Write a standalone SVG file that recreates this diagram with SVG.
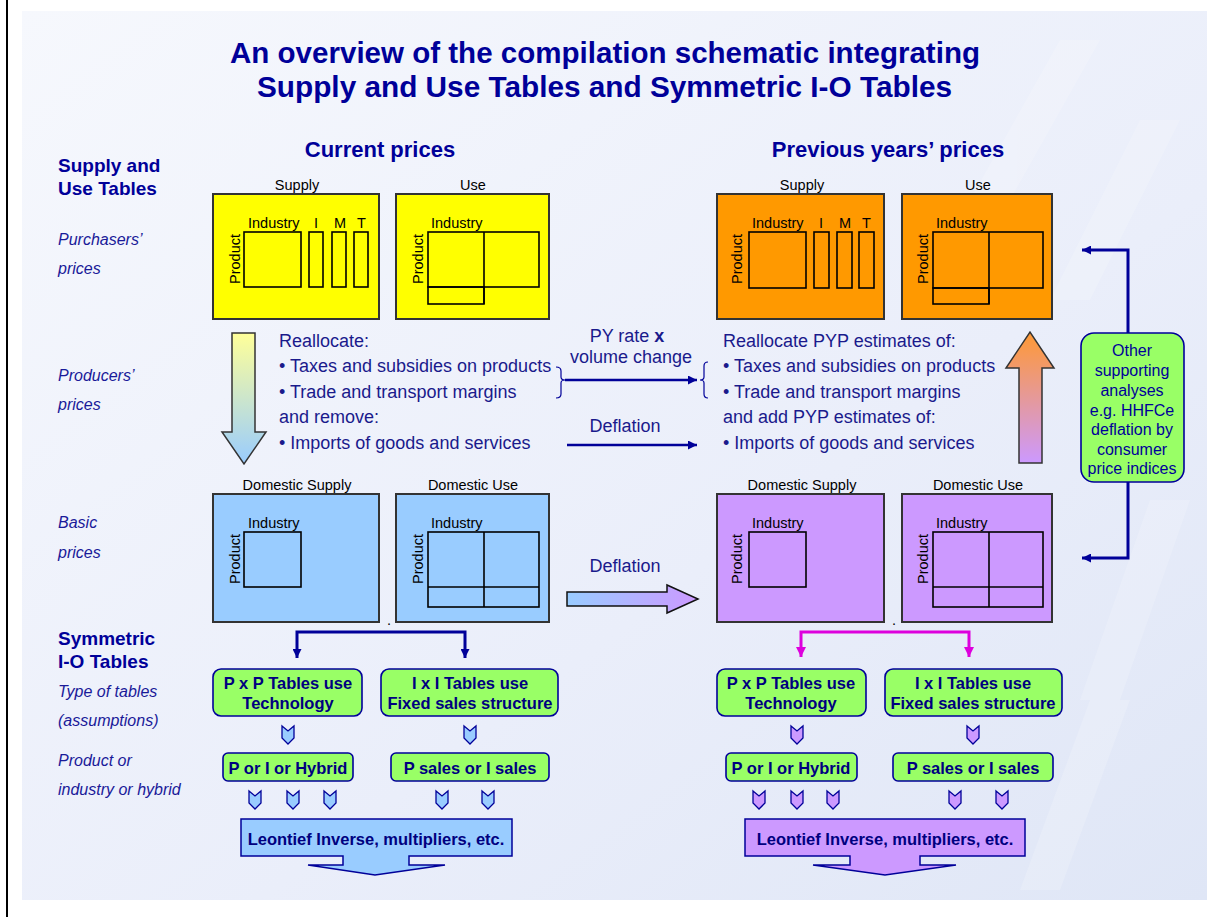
<svg xmlns="http://www.w3.org/2000/svg" width="1209" height="917" viewBox="0 0 1209 917">
<defs>
<linearGradient id="bg" x1="0" y1="0" x2="1" y2="1">
<stop offset="0" stop-color="#f6f8fd"/>
<stop offset="0.6" stop-color="#eaeefa"/>
<stop offset="1" stop-color="#dfe6f6"/>
</linearGradient>
<linearGradient id="gDown" x1="0" y1="0" x2="0" y2="1">
<stop offset="0" stop-color="#ffff99"/>
<stop offset="1" stop-color="#99ccff"/>
</linearGradient>
<linearGradient id="gUp" x1="0" y1="0" x2="0" y2="1">
<stop offset="0" stop-color="#ff9933"/>
<stop offset="1" stop-color="#cc99ff"/>
</linearGradient>
<linearGradient id="gRight" x1="0" y1="0" x2="1" y2="0">
<stop offset="0" stop-color="#99ccff"/>
<stop offset="1" stop-color="#cc99ff"/>
</linearGradient>
<marker id="ahN" viewBox="0 0 10 10" refX="10" refY="5" markerWidth="10" markerHeight="9" markerUnits="userSpaceOnUse" orient="auto">
<path d="M0,0 L10,5 L0,10 Z" fill="#000099"/>
</marker>
<marker id="ahM" viewBox="0 0 10 10" refX="10" refY="5" markerWidth="10" markerHeight="10" markerUnits="userSpaceOnUse" orient="auto">
<path d="M0,0 L10,5 L0,10 Z" fill="#dd00dd"/>
</marker>
<path id="chev" d="M-6,0 L0,5 L6,0 L6,12 L0,18 L-6,12 Z"/>
</defs>
<style>
.t{font-family:"Liberation Sans",Arial,sans-serif;fill:#000099}
.title{font-size:29px;font-weight:bold;text-anchor:middle}
.hdr{font-size:22px;font-weight:bold;text-anchor:middle}
.lab{font-size:19px;font-weight:bold}
.it{font-size:16px;font-style:italic;fill:#1a1a99}
.body{font-size:18px;fill:#1a1a8c}
.tiny{font-family:"Liberation Sans",Arial,sans-serif;font-size:14.5px;fill:#000}
.mid{text-anchor:middle}
.box{stroke:#333;stroke-width:2}
.inner{fill:none;stroke:#000;stroke-width:1.6}
.green{fill:#99ff66;stroke:#000099;stroke-width:1.6}
.gt{font-family:"Liberation Sans",Arial,sans-serif;font-size:16.5px;font-weight:bold;fill:#000080;text-anchor:middle}
.ot{font-family:"Liberation Sans",Arial,sans-serif;font-size:16px;fill:#000099;text-anchor:middle}
.conN{fill:none;stroke:#000099;stroke-width:3;marker-end:url(#ahN)}
.conM{fill:none;stroke:#dd00dd;stroke-width:3;marker-end:url(#ahM)}
.cb{fill:#99ccff;stroke:#000099;stroke-width:1.3}
.cp{fill:#cc99ff;stroke:#000099;stroke-width:1.3}
</style>

<rect x="0" y="0" width="1209" height="917" fill="#ffffff"/>
<rect x="22" y="11" width="1185" height="889" fill="url(#bg)"/>
<g opacity="0.18" fill="#ffffff">
<polygon points="1060,40 1100,40 1010,200 970,200"/>
<polygon points="1140,120 1180,120 1090,300 1050,300"/>
<polygon points="1150,500 1190,500 1120,700 1080,700"/>
<polygon points="1090,700 1130,700 1060,890 1020,890"/>
</g>
<line x1="7" y1="0" x2="7" y2="917" stroke="#000" stroke-width="2"/>

<g id="title">
<text class="t title" x="605" y="63" textLength="750" lengthAdjust="spacingAndGlyphs">An overview of the compilation schematic integrating</text>
<text class="t title" x="604.5" y="97" textLength="695" lengthAdjust="spacingAndGlyphs">Supply and Use Tables and Symmetric I-O Tables</text>
<text class="t hdr" x="380" y="157">Current prices</text>
<text class="t hdr" x="888" y="157">Previous years’ prices</text>
</g>

<g id="row-labels">
<text class="t lab" x="58" y="172">Supply and</text>
<text class="t lab" x="58" y="195">Use Tables</text>
<text class="t it" x="58" y="245">Purchasers’</text>
<text class="t it" x="58" y="274">prices</text>
<text class="t it" x="58" y="381">Producers’</text>
<text class="t it" x="58" y="410">prices</text>
<text class="t it" x="58" y="528">Basic</text>
<text class="t it" x="58" y="558">prices</text>
<text class="t lab" x="58" y="645">Symmetric</text>
<text class="t lab" x="58" y="668">I-O Tables</text>
<text class="t it" x="58" y="697">Type of tables</text>
<text class="t it" x="58" y="726">(assumptions)</text>
<text class="t it" x="58" y="766">Product or</text>
<text class="t it" x="58" y="795">industry or hybrid</text>
</g>

<g id="cp-supply">
<text class="tiny mid" x="297" y="190">Supply</text>
<rect class="box" x="213" y="194" width="166" height="125" fill="#ffff00"/>
<text class="tiny" x="248" y="228">Industry</text>
<text class="tiny" x="314" y="228">I</text>
<text class="tiny" x="334" y="228">M</text>
<text class="tiny" x="357" y="228">T</text>
<rect class="inner" x="244" y="232" width="57" height="55"/>
<rect class="inner" x="309" y="232" width="14" height="55"/>
<rect class="inner" x="332" y="232" width="14" height="55"/>
<rect class="inner" x="354" y="232" width="14" height="55"/>
<text class="tiny mid" transform="translate(240,259) rotate(-90)">Product</text>
</g>
<g id="cp-use">
<text class="tiny mid" x="473" y="190">Use</text>
<rect class="box" x="396" y="194" width="153" height="125" fill="#ffff00"/>
<text class="tiny" x="431" y="228">Industry</text>
<rect class="inner" x="428" y="232" width="111" height="55"/>
<line class="inner" x1="484" y1="232" x2="484" y2="304"/>
<rect class="inner" x="428" y="287" width="56" height="17"/>
<text class="tiny mid" transform="translate(423,259) rotate(-90)">Product</text>
</g>

<g id="pyp-supply">
<text class="tiny mid" x="802" y="190">Supply</text>
<rect class="box" x="717" y="194" width="167" height="125" fill="#ff9900"/>
<text class="tiny" x="752" y="228">Industry</text>
<text class="tiny" x="819" y="228">I</text>
<text class="tiny" x="839" y="228">M</text>
<text class="tiny" x="862" y="228">T</text>
<rect class="inner" x="749" y="232" width="57" height="56"/>
<rect class="inner" x="814" y="232" width="15" height="56"/>
<rect class="inner" x="837" y="232" width="15" height="56"/>
<rect class="inner" x="859" y="232" width="15" height="56"/>
<text class="tiny mid" transform="translate(742,259) rotate(-90)">Product</text>
</g>
<g id="pyp-use">
<text class="tiny mid" x="978" y="190">Use</text>
<rect class="box" x="902" y="194" width="150" height="125" fill="#ff9900"/>
<text class="tiny" x="936" y="228">Industry</text>
<rect class="inner" x="933" y="232" width="110" height="56"/>
<line class="inner" x1="989" y1="232" x2="989" y2="304"/>
<rect class="inner" x="933" y="288" width="56" height="16"/>
<text class="tiny mid" transform="translate(928,259) rotate(-90)">Product</text>
</g>

<g id="cp-dsupply">
<text class="tiny mid" x="297" y="490">Domestic Supply</text>
<rect class="box" x="213" y="494" width="166" height="128" fill="#99ccff"/>
<text class="tiny" x="248" y="528">Industry</text>
<rect class="inner" x="244" y="532" width="57" height="55"/>
<text class="tiny mid" transform="translate(240,559) rotate(-90)">Product</text>
</g>
<g id="cp-duse">
<text class="tiny mid" x="473" y="490">Domestic Use</text>
<rect class="box" x="396" y="494" width="153" height="128" fill="#99ccff"/>
<text class="tiny" x="431" y="528">Industry</text>
<rect class="inner" x="428" y="532" width="111" height="75"/>
<line class="inner" x1="428" y1="587" x2="539" y2="587"/>
<line class="inner" x1="484" y1="532" x2="484" y2="607"/>
<text class="tiny mid" transform="translate(423,559) rotate(-90)">Product</text>
</g>
<text class="tiny" x="387" y="625">.</text>

<g id="pyp-dsupply">
<text class="tiny mid" x="802" y="490">Domestic Supply</text>
<rect class="box" x="717" y="494" width="167" height="128" fill="#cc99ff"/>
<text class="tiny" x="752" y="528">Industry</text>
<rect class="inner" x="749" y="532" width="57" height="55"/>
<text class="tiny mid" transform="translate(742,559) rotate(-90)">Product</text>
</g>
<g id="pyp-duse">
<text class="tiny mid" x="978" y="490">Domestic Use</text>
<rect class="box" x="902" y="494" width="150" height="128" fill="#cc99ff"/>
<text class="tiny" x="936" y="528">Industry</text>
<rect class="inner" x="933" y="532" width="110" height="75"/>
<line class="inner" x1="933" y1="587" x2="1043" y2="587"/>
<line class="inner" x1="989" y1="532" x2="989" y2="607"/>
<text class="tiny mid" transform="translate(928,559) rotate(-90)">Product</text>
</g>
<text class="tiny" x="892" y="625">.</text>

<g id="cp-text">
<text class="t body" x="279" y="347">Reallocate:</text>
<text class="t body" x="279" y="372">• Taxes and subsidies on products</text>
<text class="t body" x="279" y="398">• Trade and transport margins</text>
<text class="t body" x="279" y="423">and remove:</text>
<text class="t body" x="279" y="449">• Imports of goods and services</text>
</g>
<g id="pyp-text">
<text class="t body" x="723" y="347">Reallocate PYP estimates of:</text>
<text class="t body" x="723" y="372">• Taxes and subsidies on products</text>
<text class="t body" x="723" y="398">• Trade and transport margins</text>
<text class="t body" x="723" y="423">and add PYP estimates of:</text>
<text class="t body" x="723" y="449">• Imports of goods and services</text>
</g>

<g id="connectors">
<polygon points="232,333 255,333 255,432 266,432 244,464 222,432 232,432" fill="url(#gDown)" stroke="#333" stroke-width="1.5"/>
<polygon points="1019,463 1042,463 1042,368 1054,368 1030,332 1006,368 1019,368" fill="url(#gUp)" stroke="#333" stroke-width="1.5"/>
<polygon points="567,592 667,592 667,585 698,599 667,613 667,606 567,606" fill="url(#gRight)" stroke="#111" stroke-width="1.5"/>
<text class="t body mid" x="625" y="572">Deflation</text>

<path d="M556,367 Q561,367 561,371 L561,377 Q561,380 565,380 Q561,380 561,383 L561,394 Q561,398 556,398" fill="none" stroke="#000099" stroke-width="1.2"/>
<path d="M708,362 Q704,362 704,366 L704,377 Q704,380 700,380 Q704,380 704,383 L704,394 Q704,398 708,398" fill="none" stroke="#000099" stroke-width="1.2"/>
<line x1="565" y1="380" x2="697" y2="380" stroke="#000099" stroke-width="2.5" marker-end="url(#ahN)"/>
<text class="t body mid" x="627" y="342">PY rate <tspan font-weight="bold">x</tspan></text>
<text class="t body mid" x="631" y="363">volume change</text>
<line x1="567" y1="445" x2="697" y2="445" stroke="#000099" stroke-width="2.5" marker-end="url(#ahN)"/>
<text class="t body mid" x="625" y="432">Deflation</text>

<path class="conN" d="M1128,333 V250 H1082" stroke-width="2.5"/>
<path class="conN" d="M1128,482 V558 H1082" stroke-width="2.5"/>

<path class="conN" d="M381,632 H297 V658"/>
<path class="conN" d="M381,632 H465 V658"/>
<path class="conM" d="M885,632 H801 V657"/>
<path class="conM" d="M885,632 H969 V657"/>

<use href="#chev" x="288" y="726" class="cb"/>
<use href="#chev" x="470" y="726" class="cb"/>
<use href="#chev" x="255" y="791" class="cb"/>
<use href="#chev" x="293" y="791" class="cb"/>
<use href="#chev" x="330" y="791" class="cb"/>
<use href="#chev" x="442" y="791" class="cb"/>
<use href="#chev" x="488" y="791" class="cb"/>
<use href="#chev" x="797" y="726" class="cp"/>
<use href="#chev" x="973" y="726" class="cp"/>
<use href="#chev" x="759" y="791" class="cp"/>
<use href="#chev" x="797" y="791" class="cp"/>
<use href="#chev" x="833" y="791" class="cp"/>
<use href="#chev" x="955" y="791" class="cp"/>
<use href="#chev" x="1002" y="791" class="cp"/>
</g>

<g id="other-analyses">
<rect class="green" x="1081" y="333" width="103" height="149" rx="13"/>
<text class="ot" x="1132" y="356">Other</text>
<text class="ot" x="1132" y="376">supporting</text>
<text class="ot" x="1132" y="396">analyses</text>
<text class="ot" x="1132" y="416">e.g. HHFCe</text>
<text class="ot" x="1132" y="435">deflation by</text>
<text class="ot" x="1132" y="455">consumer</text>
<text class="ot" x="1132" y="474">price indices</text>
</g>

<g id="cp-pxp">
<rect class="green" x="213" y="669" width="149" height="47" rx="8"/>
<text class="gt" x="288" y="689">P x P Tables use</text>
<text class="gt" x="288" y="709">Technology</text>
</g>
<g id="cp-ixi">
<rect class="green" x="381" y="669" width="177" height="47" rx="8"/>
<text class="gt" x="470" y="689">I x I Tables use</text>
<text class="gt" x="470" y="709">Fixed sales structure</text>
</g>
<g id="cp-hybrid">
<rect class="green" x="223" y="753" width="130" height="28" rx="5"/>
<text class="gt" x="288" y="774">P or I or Hybrid</text>
</g>
<g id="cp-sales">
<rect class="green" x="391" y="753" width="158" height="28" rx="5"/>
<text class="gt" x="470" y="774">P sales or I sales</text>
</g>
<g id="cp-leontief">
<path d="M241,819 H512 V856 H409 V865 H445 L375,875 L308,865 H343 V856 H241 Z" fill="#99ccff" stroke="#000099" stroke-width="1.5"/>
<text class="gt" x="376" y="845" font-size="18">Leontief Inverse, multipliers, etc.</text>
</g>

<g id="pyp-pxp">
<rect class="green" x="717" y="669" width="149" height="47" rx="8"/>
<text class="gt" x="791" y="689">P x P Tables use</text>
<text class="gt" x="791" y="709">Technology</text>
</g>
<g id="pyp-ixi">
<rect class="green" x="885" y="669" width="177" height="47" rx="8"/>
<text class="gt" x="973" y="689">I x I Tables use</text>
<text class="gt" x="973" y="709">Fixed sales structure</text>
</g>
<g id="pyp-hybrid">
<rect class="green" x="726" y="753" width="131" height="28" rx="5"/>
<text class="gt" x="791" y="774">P or I or Hybrid</text>
</g>
<g id="pyp-sales">
<rect class="green" x="893" y="753" width="160" height="28" rx="5"/>
<text class="gt" x="973" y="774">P sales or I sales</text>
</g>
<g id="pyp-leontief">
<path d="M745,819 H1025 V856 H920 V865 H956 L885,875 L813,865 H850 V856 H745 Z" fill="#cc99ff" stroke="#000099" stroke-width="1.5"/>
<text class="gt" x="885" y="845" font-size="18">Leontief Inverse, multipliers, etc.</text>
</g>
</svg>
